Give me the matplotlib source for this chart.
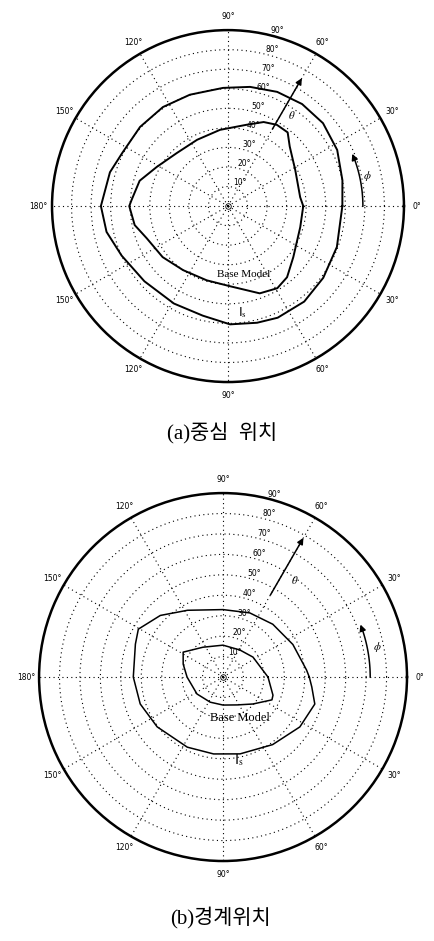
import matplotlib.pyplot as plt
import numpy as np

plt.rcParams['mathtext.fontset'] = 'stix'

# (a) 중심 위치 - phi [deg], theta [deg]
base_a_phi = [0, 7, 28, 44, 51, 59, 67, 77, 96, 115, 134, 151, 164, 176, 180, 191.5, 201.6, 218,
              235, 254, 271.4, 290, 301, 309.7, 322, 343.7, 360]
base_a_theta = [38.5, 37.2, 39, 43.9, 48.5, 48.5, 46.7, 42.7, 39.2, 37.4, 37.7, 41.5, 47, 49.3, 50.5,
                48.7, 44.7, 42.4, 40, 39.5, 41, 47.5, 49, 47.3, 42.4, 38.5, 38.5]
is_a_phi = [0, 12.7, 27.2, 41.1, 54, 66.7, 79.5, 92.4, 108.9, 123.3, 138, 153.2, 164, 180, 192, 205,
            222, 241, 257, 271, 284, 294, 308.6, 323, 339.4, 360]
is_a_theta = [58.5, 60, 62.8, 64.5, 64.5, 63.6, 62, 60.5, 60.2, 60.6, 60.5, 60.5, 62.8, 65, 63.5, 60,
              57.5, 57, 57.5, 60.5, 61.5, 62.5, 62.5, 61, 59.5, 58.5]

# (b) 경계위치
base_b_phi = [0, 33.7, 58, 90, 124, 148, 162, 180, 213, 243, 270, 297, 318, 335, 340, 360]
base_b_theta = [22, 17.6, 15.6, 15.6, 17.6, 23, 20.5, 17.6, 15.2, 13.8, 13.7, 15.3, 19.7, 26.4, 26, 22]
is_b_phi = [0, 4.8, 25, 46.7, 67.4, 90, 118, 135.5, 150.5, 159.4, 180, 198, 217.1, 243, 263, 282.5,
            306.3, 327, 343.6, 353.6, 360]
is_b_theta = [42.2, 41, 37.7, 35.5, 34, 33, 37, 43, 47.6, 45.8, 43.9, 42.6, 40.4, 38.5, 37.9, 38.5,
              41, 44.8, 46.8, 43.7, 42.2]

theta_ticks = np.arange(0, 360, 30)
theta_labels = ['0°', '30°', '60°', '90°', '120°', '150°', '180°', '150°', '120°', '90°', '60°', '30°']
r_ticks = np.arange(10, 100, 10)
r_labels = ['%d°' % r for r in r_ticks]

fig = plt.figure(figsize=(4.34, 9.41), dpi=100)


def polar_panel(rect, base_phi, base_theta, is_phi, is_theta, lw, cfg):
    ax = fig.add_axes(rect, projection='polar')
    ax.set_theta_zero_location('E')
    ax.set_ylim(0, 90)
    ax.set_xticks(np.deg2rad(theta_ticks))
    ax.set_xticklabels(theta_labels, fontsize=5.5)
    ax.tick_params(axis='x', pad=cfg['pad'])
    ax.set_yticks(r_ticks)
    ax.set_yticklabels(r_labels, fontsize=5.5)
    ax.set_rlabel_position(76)
    ax.grid(True, color='k', lw=0.8, linestyle=(0, (1, 3)))
    ax.spines['polar'].set_linewidth(1.8)

    ax.plot(np.deg2rad(base_phi), base_theta, color='k', lw=lw)
    ax.plot(np.deg2rad(is_phi), is_theta, color='k', lw=lw)
    ax.plot([0], [0], marker='o', ms=4, mfc='none', mec='k', mew=0.6)

    # theta arrow (radial)
    t0, t1 = cfg['theta_arrow']
    ax.annotate('', xy=(np.deg2rad(60), t1), xytext=(np.deg2rad(60), t0),
                arrowprops=dict(arrowstyle='-|>', color='k', lw=1.1, mutation_scale=9))
    ax.text(np.deg2rad(cfg['theta_lbl'][0]), cfg['theta_lbl'][1], r'$\theta$',
            fontsize=8, ha='center', va='center')

    # phi arrow (arc)
    r_arc, a_end = cfg['phi_arc']
    arc = np.linspace(0, a_end - 4, 30)
    ax.plot(np.deg2rad(arc), np.full_like(arc, r_arc), color='k', lw=1.1)
    ax.annotate('', xy=(np.deg2rad(a_end), r_arc), xytext=(np.deg2rad(a_end - 4), r_arc),
                arrowprops=dict(arrowstyle='-|>', color='k', lw=1.1, mutation_scale=9))
    ax.text(np.deg2rad(cfg['phi_lbl'][0]), cfg['phi_lbl'][1], r'$\phi$',
            fontsize=8, ha='center', va='center')

    ax.text(np.deg2rad(cfg['base_lbl'][0]), cfg['base_lbl'][1], 'Base Model',
            fontsize=cfg['fs'], family='Liberation Serif', ha='center', va='center')
    ax.text(np.deg2rad(cfg['is_lbl'][0]), cfg['is_lbl'][1], r'I$_\mathrm{s}$',
            fontsize=cfg['fs'] + 1, ha='center', va='center')
    return ax


polar_panel([0.1198, 0.594, 0.811, 0.374], base_a_phi, base_a_theta, is_a_phi, is_a_theta, 1.4,
            dict(pad=-1, theta_arrow=(44, 77), theta_lbl=(55, 57), phi_arc=(69, 24),
                 phi_lbl=(12, 73), base_lbl=(-77, 36), is_lbl=(-82, 55), fs=8))
polar_panel([0.0899, 0.085, 0.848, 0.391], base_b_phi, base_b_theta, is_b_phi, is_b_theta, 1.1,
            dict(pad=-1, theta_arrow=(45, 80), theta_lbl=(53.4, 59), phi_arc=(72, 22),
                 phi_lbl=(11, 77), base_lbl=(-68, 21.5), is_lbl=(-79, 41.5), fs=9))

kfont = ['Liberation Serif', 'Noto Sans CJK KR']
fig.text(0.512, 1 - 433 / 941, '(a)중심  위치', fontsize=15, family=kfont, ha='center', va='center')
fig.text(0.508, 1 - 917 / 941, '(b)경계위치', fontsize=15, family=kfont, ha='center', va='center')

fig.savefig('out.png', dpi=100)
